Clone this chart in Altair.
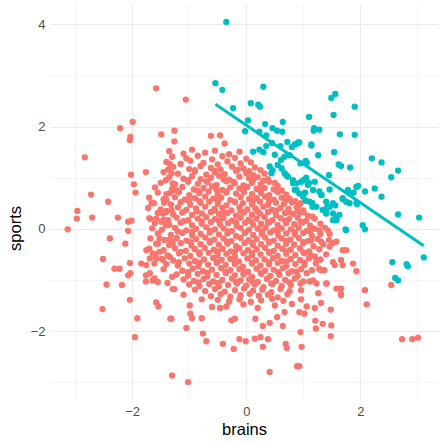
import altair as alt
import pandas as pd

# ---- dense central cloud (red, not selected), row by row: (brains, sports) ----
core_rows = [
    ([-1.35, -1.1, -0.95, -0.72, -0.55, -0.3, -0.12],
     [1.52, 1.47, 1.55, 1.49, 1.53, 1.46, 1.51]),
    ([-1.3, -1.05, -0.85, -0.6, -0.42, -0.2, 0.0],
     [1.41, 1.38, 1.43, 1.36, 1.42, 1.39, 1.37]),
    ([-1.4, -1.15, -0.98, -0.75, -0.5, -0.33, -0.1, 0.08],
     [1.31, 1.27, 1.33, 1.29, 1.26, 1.32, 1.28, 1.3]),
    ([-1.28, -1.0, -0.8, -0.62, -0.45, -0.25, -0.05, 0.15, 0.25],
     [1.21, 1.17, 1.23, 1.19, 1.16, 1.22, 1.18, 1.2, 1.15]),
    ([-0.9, -0.55, -0.15, 0.05],
     [1.15, 1.14, 1.16, 1.13]),
    ([-1.45, -1.2, -0.9, -0.7, -0.55, -0.38, -0.18, 0.0, 0.12, 0.32],
     [1.11, 1.08, 1.12, 1.06, 1.1, 1.07, 1.13, 1.09, 1.05, 1.08]),
    ([-1.35, -1.1, -0.95, -0.8, -0.62, -0.48, -0.3, -0.12, 0.05, 0.2, 0.38, 0.5],
     [1.01, 0.98, 1.03, 0.97, 1.0, 1.04, 0.96, 1.02, 0.99, 1.01, 0.97, 0.9]),
    ([-1.02, -0.7, -0.4, -0.22, 0.12, 0.3],
     [0.95, 0.93, 0.97, 0.92, 0.96, 0.94]),
    ([-1.5, -1.25, -1.02, -0.85, -0.68, -0.52, -0.35, -0.2, -0.05, 0.1, 0.25, 0.4, 0.55],
     [0.9, 0.87, 0.92, 0.88, 0.91, 0.86, 0.93, 0.89, 0.85, 0.9, 0.87, 0.92, 0.84]),
    ([-1.6, -1.3, -1.12, -0.92, -0.75, -0.6, -0.42, -0.28, -0.12, 0.02, 0.18, 0.32, 0.48, 0.62],
     [0.81, 0.78, 0.82, 0.77, 0.8, 0.83, 0.76, 0.81, 0.79, 0.82, 0.78, 0.8, 0.77, 0.75]),
    ([-1.22, -0.85, -0.52, -0.35, -0.05, 0.25, 0.55],
     [0.75, 0.74, 0.76, 0.73, 0.75, 0.77, 0.74]),
    ([-1.55, -1.4, -1.18, -1.0, -0.82, -0.66, -0.5, -0.35, -0.18, -0.04, 0.1, 0.26, 0.4, 0.55, 0.7],
     [0.71, 0.68, 0.72, 0.66, 0.7, 0.73, 0.67, 0.71, 0.69, 0.72, 0.68, 0.7, 0.66, 0.72, 0.67]),
    ([-1.7, -1.45, -1.25, -1.08, -0.9, -0.72, -0.58, -0.44, -0.28, -0.1, 0.05, 0.18, 0.33, 0.48, 0.62, 0.76, 0.86],
     [0.61, 0.58, 0.62, 0.57, 0.6, 0.63, 0.59, 0.61, 0.56, 0.62, 0.58, 0.6, 0.63, 0.57, 0.61, 0.59, 0.54]),
    ([-1.0, -0.82, -0.5, -0.2, 0.12, 0.4, 0.7],
     [0.55, 0.54, 0.56, 0.53, 0.55, 0.54, 0.56]),
    ([-1.62, -1.32, -1.15, -0.98, -0.8, -0.65, -0.5, -0.35, -0.2, -0.06, 0.1, 0.24, 0.38, 0.52, 0.66, 0.8, 0.92],
     [0.5, 0.48, 0.52, 0.47, 0.51, 0.53, 0.49, 0.46, 0.52, 0.5, 0.48, 0.53, 0.47, 0.51, 0.49, 0.52, 0.46]),
    ([-1.72, -1.5, -1.2, -1.05, -0.88, -0.72, -0.56, -0.42, -0.26, -0.12, 0.02, 0.16, 0.3, 0.45, 0.6, 0.74, 0.88, 1.0],
     [0.41, 0.38, 0.42, 0.37, 0.4, 0.43, 0.39, 0.41, 0.36, 0.42, 0.38, 0.4, 0.43, 0.37, 0.41, 0.39, 0.42, 0.36]),
    ([-1.4, -0.87, -0.55, -0.4, -0.1, 0.2, 0.52, 0.75, 0.9],
     [0.35, 0.34, 0.36, 0.33, 0.35, 0.34, 0.36, 0.33, 0.35]),
    ([-1.55, -1.28, -1.12, -0.95, -0.78, -0.62, -0.48, -0.33, -0.18, -0.04, 0.1, 0.24, 0.38, 0.52, 0.68, 0.82, 0.95, 1.08],
     [0.31, 0.28, 0.32, 0.27, 0.3, 0.33, 0.29, 0.31, 0.26, 0.32, 0.28, 0.3, 0.33, 0.27, 0.31, 0.29, 0.32, 0.26]),
    ([-1.7, -1.45, -1.22, -1.02, -0.85, -0.7, -0.55, -0.4, -0.25, -0.1, 0.04, 0.18, 0.32, 0.46, 0.6, 0.75, 0.9, 1.05, 1.2],
     [0.21, 0.18, 0.22, 0.17, 0.2, 0.23, 0.19, 0.21, 0.16, 0.22, 0.18, 0.2, 0.23, 0.17, 0.21, 0.19, 0.22, 0.16, 0.2]),
    ([-1.1, -0.78, -0.48, -0.18, 0.08, 0.38, 0.68, 0.95],
     [0.15, 0.14, 0.16, 0.13, 0.15, 0.14, 0.16, 0.14]),
    ([-1.6, -1.35, -1.15, -0.95, -0.78, -0.62, -0.46, -0.32, -0.17, -0.02, 0.12, 0.26, 0.4, 0.55, 0.7, 0.84, 0.98, 1.12, 1.3],
     [0.11, 0.08, 0.12, 0.07, 0.1, 0.13, 0.09, 0.11, 0.06, 0.12, 0.08, 0.1, 0.13, 0.07, 0.11, 0.09, 0.12, 0.06, 0.1]),
    ([-1.65, -1.48, -1.25, -1.05, -0.88, -0.7, -0.55, -0.4, -0.25, -0.1, 0.05, 0.2, 0.34, 0.48, 0.62, 0.78, 0.92, 1.06, 1.2, 1.38],
     [0.01, -0.02, 0.02, -0.03, 0.0, 0.03, -0.01, 0.01, -0.04, 0.02, -0.02, 0.0, 0.03, -0.03, 0.01, -0.01, 0.02, -0.04, 0.0, 0.02]),
    ([-1.2, -0.95, -0.62, -0.32, -0.02, 0.28, 0.55, 0.85, 1.12],
     [-0.05, -0.06, -0.04, -0.05, -0.07, -0.05, -0.04, -0.06, -0.05]),
    ([-1.55, -1.32, -1.12, -0.95, -0.8, -0.64, -0.48, -0.33, -0.18, -0.03, 0.12, 0.27, 0.42, 0.56, 0.7, 0.85, 1.0, 1.15, 1.3],
     [-0.09, -0.12, -0.08, -0.13, -0.1, -0.07, -0.11, -0.09, -0.14, -0.08, -0.12, -0.1, -0.07, -0.13, -0.09, -0.11, -0.08, -0.14, -0.1]),
    ([-1.68, -1.42, -1.22, -1.05, -0.88, -0.72, -0.56, -0.4, -0.26, -0.1, 0.04, 0.18, 0.33, 0.48, 0.62, 0.77, 0.92, 1.08, 1.25, 1.45],
     [-0.19, -0.22, -0.18, -0.23, -0.2, -0.17, -0.21, -0.19, -0.24, -0.18, -0.22, -0.2, -0.17, -0.23, -0.19, -0.21, -0.18, -0.24, -0.2, -0.22]),
    ([-1.3, -0.98, -0.64, -0.34, 0.1, 0.4, 0.7, 1.0],
     [-0.25, -0.26, -0.24, -0.25, -0.27, -0.25, -0.24, -0.26]),
    ([-1.58, -1.35, -1.15, -0.96, -0.8, -0.64, -0.48, -0.33, -0.18, -0.03, 0.12, 0.26, 0.4, 0.55, 0.7, 0.84, 1.0, 1.18, 1.35],
     [-0.29, -0.32, -0.28, -0.33, -0.3, -0.27, -0.31, -0.29, -0.34, -0.28, -0.32, -0.3, -0.27, -0.33, -0.29, -0.31, -0.28, -0.34, -0.3]),
    ([-1.7, -1.45, -1.25, -1.06, -0.9, -0.73, -0.57, -0.42, -0.27, -0.12, 0.03, 0.18, 0.33, 0.48, 0.63, 0.78, 0.94, 1.1, 1.28],
     [-0.39, -0.42, -0.38, -0.43, -0.4, -0.37, -0.41, -0.39, -0.44, -0.38, -0.42, -0.4, -0.37, -0.43, -0.39, -0.41, -0.38, -0.44, -0.4]),
    ([-1.15, -0.82, -0.5, -0.2, 0.1, 0.4, 0.7, 1.0],
     [-0.45, -0.46, -0.44, -0.45, -0.47, -0.45, -0.44, -0.46]),
    ([-1.6, -1.38, -1.18, -0.98, -0.82, -0.66, -0.5, -0.35, -0.2, -0.05, 0.1, 0.25, 0.4, 0.55, 0.7, 0.86, 1.02, 1.2, 1.4],
     [-0.49, -0.52, -0.48, -0.53, -0.5, -0.47, -0.51, -0.49, -0.54, -0.48, -0.52, -0.5, -0.47, -0.53, -0.49, -0.51, -0.48, -0.54, -0.5]),
    ([-1.48, -1.28, -1.08, -0.9, -0.74, -0.58, -0.43, -0.28, -0.13, 0.02, 0.17, 0.32, 0.47, 0.62, 0.78, 0.94, 1.1, 1.3],
     [-0.59, -0.62, -0.58, -0.63, -0.6, -0.57, -0.61, -0.59, -0.64, -0.58, -0.62, -0.6, -0.57, -0.63, -0.59, -0.61, -0.58, -0.6]),
    ([-1.18, -0.82, -0.5, -0.2, 0.1, 0.4, 0.7, 1.02],
     [-0.65, -0.66, -0.64, -0.65, -0.67, -0.65, -0.64, -0.66]),
    ([-1.4, -1.2, -1.0, -0.84, -0.67, -0.52, -0.36, -0.2, -0.06, 0.1, 0.25, 0.4, 0.55, 0.7, 0.86, 1.02, 1.22],
     [-0.69, -0.72, -0.68, -0.73, -0.7, -0.67, -0.71, -0.69, -0.74, -0.68, -0.72, -0.7, -0.67, -0.73, -0.69, -0.71, -0.68]),
    ([-1.45, -1.12, -0.94, -0.76, -0.6, -0.44, -0.28, -0.12, 0.03, 0.18, 0.33, 0.48, 0.64, 0.8, 0.96, 1.15],
     [-0.79, -0.82, -0.78, -0.83, -0.8, -0.77, -0.81, -0.79, -0.84, -0.78, -0.82, -0.8, -0.77, -0.83, -0.79, -0.81]),
    ([-1.02, -0.68, -0.36, -0.04, 0.26, 0.56, 0.88],
     [-0.85, -0.86, -0.84, -0.85, -0.87, -0.85, -0.84]),
    ([-1.22, -1.02, -0.85, -0.68, -0.52, -0.36, -0.2, -0.05, 0.1, 0.26, 0.42, 0.58, 0.74, 0.9],
     [-0.89, -0.92, -0.88, -0.93, -0.9, -0.87, -0.91, -0.89, -0.94, -0.88, -0.92, -0.9, -0.87, -0.93]),
    ([-1.1, -0.92, -0.75, -0.58, -0.42, -0.25, -0.1, 0.05, 0.2, 0.36, 0.52, 0.68, 0.85, 1.0],
     [-0.99, -1.02, -0.98, -1.03, -1.0, -0.97, -1.01, -0.99, -1.04, -0.98, -1.02, -1.0, -0.97, -1.03]),
    ([-0.84, -0.5, -0.18, 0.12, 0.44, 0.76],
     [-1.05, -1.06, -1.04, -1.05, -1.07, -1.05]),
    ([-1.0, -0.82, -0.65, -0.48, -0.32, -0.16, 0.0, 0.15, 0.3, 0.46, 0.62, 0.78, 0.95],
     [-1.09, -1.12, -1.08, -1.13, -1.1, -1.07, -1.11, -1.09, -1.14, -1.08, -1.12, -1.1, -1.07]),
    ([-0.9, -0.72, -0.55, -0.38, -0.2, -0.04, 0.12, 0.28, 0.44, 0.6, 0.76],
     [-1.19, -1.22, -1.18, -1.23, -1.2, -1.17, -1.21, -1.19, -1.24, -1.18, -1.22]),
    ([-1.1, -0.62, -0.45, -0.28, -0.1, 0.06, 0.22, 0.38, 0.55, 0.72],
     [-1.29, -1.32, -1.28, -1.33, -1.3, -1.27, -1.31, -1.29, -1.34, -1.28]),
    ([-0.5, -0.3, -0.12, 0.08, 0.26, 0.45, 0.65],
     [-1.39, -1.42, -1.38, -1.43, -1.4, -1.37, -1.41]),
    ([-0.35, -0.05, 0.2, 0.5, 0.8],
     [-1.52, -1.48, -1.55, -1.5, -1.47]),
]

# ---- scattered red points around the cloud: (brains, sports) ----
red_outer = [
    (-1.58, 2.75), (-1.99, 2.09), (-2.21, 1.97), (-2.03, 1.80), (-1.49, 1.85), (-1.26, 1.92),
    (-1.26, 1.71), (-1.06, 2.53), (-0.62, 1.82), (-0.46, 1.83), (-0.38, 1.67), (-2.04, 1.74),
    (-2.83, 1.40), (-2.02, 1.06), (-1.76, 1.11), (-1.97, 0.87), (-1.94, 0.71), (-2.72, 0.67),
    (-2.42, 0.53), (-2.96, 0.35), (-2.97, 0.20), (-2.70, 0.22), (-2.25, 0.22), (-2.07, 0.14),
    (-2.01, 0.16), (-3.13, -0.01), (-2.07, -0.04), (-2.39, -0.19), (-2.12, -0.29), (-2.51, -0.59),
    (-2.04, -0.67), (-2.31, -0.78), (-2.22, -0.78), (-1.66, 0.50), (-1.44, 0.51), (-1.40, 0.56),
    (-1.34, 1.27), (-1.37, 1.16), (-1.31, 1.09), (-1.41, 0.95), (-1.29, 0.89), (-1.34, 0.70),
    (-1.29, 0.76), (-1.68, 0.19), (-1.58, 0.20), (-1.49, 0.14), (-1.46, 0.30), (-1.40, 0.33),
    (-1.37, 0.17), (-1.41, 0.07), (-1.31, 0.37), (-1.52, -0.19), (-1.43, -0.22), (-1.34, -0.21),
    (-1.55, -0.29), (-1.29, -0.29), (-1.75, -0.42), (-1.64, -0.48), (-1.52, -0.45), (-1.69, -0.58),
    (-1.58, -0.58), (-1.46, -0.61), (-1.34, -0.55), (-1.84, -0.68), (-1.75, -0.71), (-1.61, -0.68),
    (-2.07, -0.91), (-2.03, -0.87), (-2.45, -1.09), (-2.18, -1.10), (-2.52, -1.57), (-2.04, -1.39),
    (-1.91, -1.75), (-1.95, -2.12), (-1.76, -0.91), (-1.69, -0.87), (-1.64, -1.01), (-1.55, -1.04),
    (-1.61, -0.97), (-1.76, -1.03), (-1.38, -1.06), (-1.30, -0.94), (-1.29, -1.18), (-1.58, -1.44),
    (-1.54, -1.52), (-1.33, -1.76), (-1.30, -2.87),
    (-1.26, -1.18), (-1.31, -1.76), (-1.05, -1.94), (-0.99, -1.50), (-0.98, -1.66), (-0.95, -1.75),
    (-0.78, -1.75), (-0.78, -1.38), (-0.60, -1.53), (-0.46, -1.55), (-0.76, -2.05), (-0.70, -2.20),
    (-0.41, -2.25), (-0.22, -2.35), (-0.12, -2.16), (-0.01, -2.20), (0.15, -2.15), (0.25, -2.12),
    (0.38, -2.16), (0.29, -2.31), (-0.26, -1.79), (-0.20, -1.76), (0.16, -1.76), (0.29, -1.90),
    (0.41, -1.84), (0.64, -1.90), (0.54, -1.73), (0.67, -1.63), (0.69, -2.25), (0.71, -2.33),
    (0.89, -2.69), (0.41, -2.80), (-1.02, -3.00), (0.95, -2.02), (0.97, -2.31), (0.93, -1.63),
    (1.93, -0.83), (2.08, -1.20), (2.11, -1.48), (1.66, -1.17), (1.66, -1.30), (1.41, -1.07),
    (1.48, -1.58), (1.31, -1.45), (1.20, -1.55), (1.06, -1.52), (1.02, -1.66), (1.26, -1.26),
    (1.21, -1.80), (1.22, -1.95), (1.34, -1.86), (1.49, -1.89), (1.48, -2.10), (0.93, -2.69),
    (2.73, -2.16), (2.91, -2.16), (3.01, -2.13), (1.06, -0.87), (1.11, -1.03), (1.23, -1.07),
    (1.28, -0.78), (1.37, -0.81), (1.55, -0.71), (1.69, -0.71), (0.96, -1.20), (0.96, -1.38),
    (2.54, -1.10), (1.87, -0.68), (1.69, -0.42), (1.51, -0.28), (1.28, -0.03), (1.16, 0.24),
    (1.00, 0.33), (0.95, 0.50), (1.14, -0.22), (1.31, -0.25), (1.46, -0.35), (1.58, -0.25),
    (1.75, -0.42), (1.52, -0.65), (1.66, -0.61), (1.23, -0.61), (1.31, -0.81), (1.17, -1.01),
    (1.40, -1.07), (1.58, -1.17), (1.66, -1.27), (1.11, -0.48), (1.43, -0.03), (1.46, -0.10),
]

# ---- selected points (teal): (brains, sports) ----
teal_pts = [
    (-0.35, 4.05), (-0.54, 2.85), (-0.42, 2.72), (-0.23, 2.36), (0.30, 2.78), (0.08, 2.46),
    (0.21, 2.43), (0.24, 2.39), (0.03, 2.12), (-0.02, 1.91), (0.33, 2.05), (0.23, 1.90),
    (0.35, 1.83), (0.46, 1.97), (0.54, 1.92), (0.63, 1.90), (0.64, 2.09), (0.91, 1.69),
    (0.85, 1.65), (1.56, 2.64), (1.49, 2.56), (1.90, 2.39), (1.10, 2.19), (1.53, 2.23),
    (1.19, 1.97), (1.18, 1.92), (1.28, 1.94), (1.64, 1.85), (1.90, 1.84), (0.93, 1.69),
    (1.14, 1.65), (1.14, 1.63), (1.54, 1.50), (1.26, 1.44), (2.20, 1.38), (2.37, 1.30),
    (1.62, 1.26), (1.66, 1.23), (1.82, 1.20), (2.66, 1.14), (2.54, 1.01), (1.04, 1.33),
    (1.06, 1.29), (0.95, 1.28), (1.45, 1.05), (1.00, 0.95), (1.10, 0.90), (1.05, 1.00),
    (1.20, 0.92), (1.96, 0.84), (2.25, 0.79), (2.08, 0.73), (1.78, 0.76), (1.84, 0.69),
    (1.88, 0.71), (1.46, 0.77), (1.28, 0.73), (1.32, 0.66), (1.03, 0.71), (1.00, 0.63),
    (1.04, 0.55), (2.37, 0.63), (1.69, 0.58), (1.75, 0.53), (1.93, 0.51), (1.94, 0.48),
    (1.52, 0.50), (1.56, 0.46), (1.42, 0.43), (1.16, 0.50), (1.16, 0.43), (1.34, 0.37),
    (1.40, 0.33), (1.63, 0.27), (1.58, 0.22), (1.52, 0.17), (2.66, 0.28), (3.03, 0.22),
    (1.74, -0.01), (2.04, 0.07), (2.08, -0.01), (2.56, -0.65), (2.81, -0.69), (2.83, -0.73),
    (3.11, -0.56), (2.61, -0.96), (2.66, -1.01),
    (0.12, 1.51), (0.23, 1.55), (0.35, 1.62), (0.45, 1.68), (0.60, 1.62), (0.72, 1.70),
    (0.80, 1.60), (0.88, 1.66), (0.41, 1.22), (0.46, 1.15), (0.44, 1.09), (0.67, 1.09),
    (0.73, 1.02), (0.82, 0.95), (0.88, 0.89), (0.96, 0.92), (0.85, 0.76), (0.93, 0.69),
    (0.99, 0.66), (0.61, 1.35), (0.67, 1.41), (0.76, 1.44), (0.50, 1.45), (0.30, 1.50),
    (0.55, 1.25), (0.62, 1.18), (0.70, 1.05), (0.82, 0.89), (0.88, 0.76), (1.08, 0.86),
    (1.17, 0.76), (1.11, 0.53), (1.23, 0.43), (1.31, 0.66), (1.40, 0.53), (1.46, 0.43),
    (1.52, 0.30), (1.40, 0.30), (1.58, 0.17), (1.75, -0.03), (1.69, 0.60), (1.81, 0.50),
    (1.93, 0.82),
]

rows = []
for bs, ss in core_rows:
    for b, s in zip(bs, ss):
        rows.append({"brains": b, "sports": s, "selected": "no"})
for b, s in red_outer:
    rows.append({"brains": b, "sports": s, "selected": "no"})
for b, s in teal_pts:
    rows.append({"brains": b, "sports": s, "selected": "yes"})
df = pd.DataFrame(rows)

RED = "#F8766D"
TEAL = "#00BFC4"
FONT = "Liberation Sans"
MINUS = "\u2212"

grid_w = {"condition": {"test": "datum.value % 2 == 0", "value": 1.1}, "value": 0.55}
label_expr = "datum.value % 2 == 0 ? replace(format(datum.value, 'd'), '-', '" + MINUS + "') : ''"

x_axis = alt.Axis(values=[-3, -2, -1, 0, 1, 2, 3], labelExpr=label_expr, grid=True,
                  gridColor="#EBEBEB", gridWidth=grid_w, ticks=False, domain=False,
                  labelPadding=5, titlePadding=3, labelOverlap=False)
y_axis = alt.Axis(values=[-3, -2, -1, 0, 1, 2, 3, 4], labelExpr=label_expr, grid=True,
                  gridColor="#EBEBEB", gridWidth=grid_w, ticks=False, domain=False,
                  labelPadding=5, titlePadding=7, titleY=224, labelOverlap=False)

xs = alt.Scale(domain=[-3.44, 3.36], nice=False, zero=False)
ys = alt.Scale(domain=[-3.35, 4.40], nice=False, zero=False)

points = alt.Chart(df).mark_circle(size=40, opacity=1).encode(
    x=alt.X("brains:Q", scale=xs, axis=x_axis, title="brains"),
    y=alt.Y("sports:Q", scale=ys, axis=y_axis, title="sports"),
    color=alt.Color("selected:N", scale=alt.Scale(domain=["no", "yes"], range=[RED, TEAL]), legend=None),
)

line = alt.Chart(df).transform_filter(
    alt.datum.selected == "yes"
).transform_regression("brains", "sports").mark_line(color=TEAL, strokeWidth=3).encode(
    x=alt.X("brains:Q", scale=xs),
    y=alt.Y("sports:Q", scale=ys),
)

chart = alt.layer(points, line).properties(
    width=388, height=396,
    autosize=alt.AutoSizeParams(type="none"),
    padding={"left": 50, "top": 4, "right": 5, "bottom": 44},
).configure_view(stroke=None).configure_axis(
    labelFont=FONT, labelFontSize=13, labelColor="#4D4D4D", labelFontWeight="normal",
    titleFont=FONT, titleFontSize=16.5, titleFontWeight="normal", titleColor="#000000",
)

chart.save("out.html", embed_options={"renderer": "svg", "actions": False})
